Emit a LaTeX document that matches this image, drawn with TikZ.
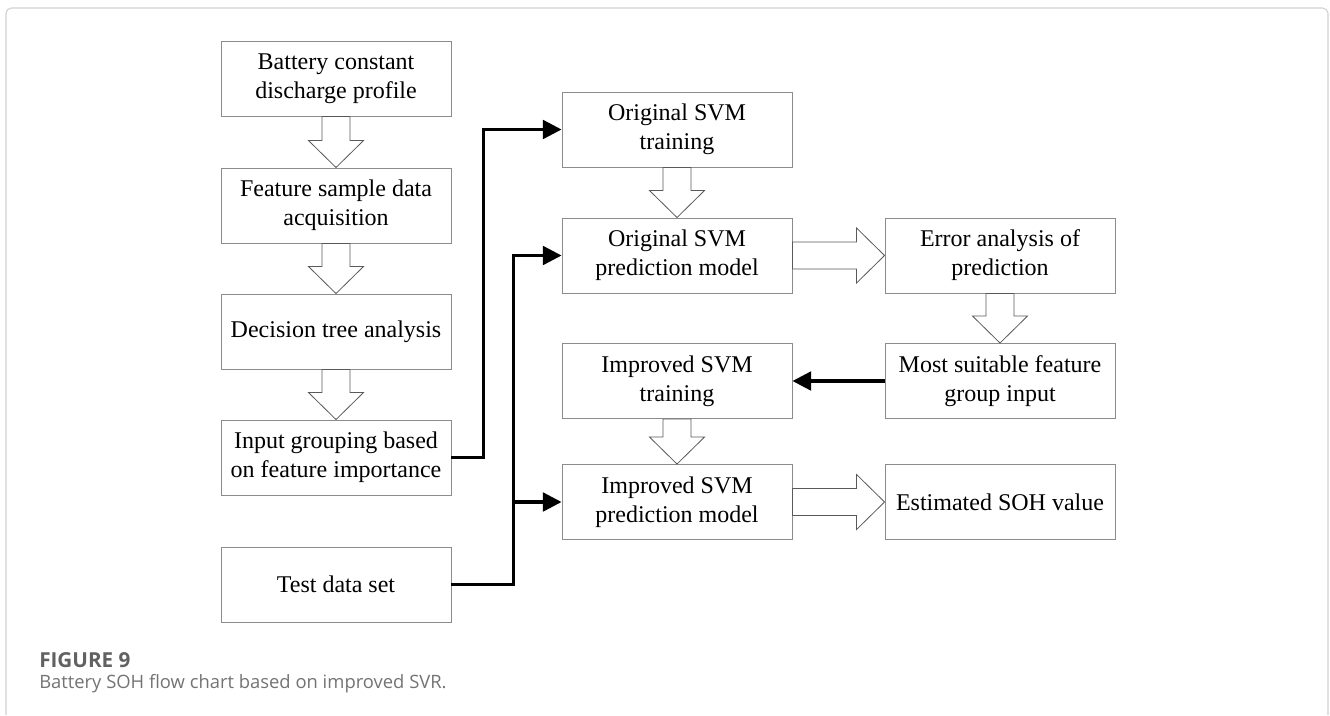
\documentclass[tikz,border=0pt]{standalone}
\usepackage{fontspec}
\setmainfont{Liberation Serif}
\newfontfamily\capfont{Open Sans}
\usetikzlibrary{arrows.meta,calc}
\begin{document}
\begin{tikzpicture}[x=0.75pt,y=-0.75pt,
	box/.style={draw=black!45,line width=0.7pt,minimum width=172.5pt,minimum height=56.25pt,
		align=center,inner sep=0pt,font=\fontsize{18}{21.75}\selectfont},
	hollow/.style={draw=black!65,line width=0.6pt,fill=white},
	blockdown/.style={to path={($(\tikztostart)+(-14,0)$) -- ($(\tikztotarget)+(-14,-27)$)
		-- ($(\tikztotarget)+(-27.5,-27)$) -- (\tikztotarget) -- ($(\tikztotarget)+(27.5,-27)$)
		-- ($(\tikztotarget)+(14,-27)$) -- ($(\tikztostart)+(14,0)$) -- cycle}},
	blockright/.style={to path={($(\tikztostart)+(0,-13.5)$) -- ($(\tikztotarget)+(-28,-13.5)$)
		-- ($(\tikztotarget)+(-28,-27.5)$) -- (\tikztotarget) -- ($(\tikztotarget)+(-28,27.5)$)
		-- ($(\tikztotarget)+(-28,13.5)$) -- ($(\tikztostart)+(0,13.5)$) -- cycle}},
	link/.style={line width=2.4pt,-{Triangle[length=14pt,width=14pt]}}]
	\useasboundingbox (0,0) rectangle (1330,715);
	\draw[black!18,line width=0.8pt,rounded corners=4pt] (6,715) -- (6,8) -- (1328,8) -- (1328,715);
	%
	\node[box] (bat)    at (336,78.5)  {Battery constant\\discharge profile};
	\node[box] (feat)   at (336,205.5) {Feature sample data\\acquisition};
	\node[box] (tree)   at (336,331.5) {Decision tree analysis};
	\node[box] (grp)    at (336,457.5) {Input grouping based\\on feature importance};
	\node[box] (test)   at (336,584.5) {Test data set};
	%
	\node[box] (otrain) at (677,129.5) {Original SVM\\training};
	\node[box] (opred)  at (677,255.5) {Original SVM\\prediction model};
	\node[box] (itrain) at (677,381)   {Improved SVM\\training};
	\node[box] (ipred)  at (677,502)   {Improved SVM\\prediction model};
	%
	\node[box] (err)    at (1000,255.5) {Error analysis of\\prediction};
	\node[box] (best)   at (1000,381)   {Most suitable feature\\group input};
	\node[box] (soh)    at (1000,502)   {Estimated SOH value};
	%
	\draw[hollow] (bat.south) to[blockdown] (feat.north);
	\draw[hollow] (feat.south) to[blockdown] (tree.north);
	\draw[hollow] (tree.south) to[blockdown] (grp.north);
	\draw[hollow] (otrain.south) to[blockdown] (opred.north);
	\draw[hollow] (itrain.south) to[blockdown] (ipred.north);
	\draw[hollow] (err.south) to[blockdown] (best.north);
	%
	\draw[hollow] (opred.east) to[blockright] (err.west);
	\draw[hollow] (ipred.east) to[blockright] (soh.west);
	%
	\coordinate (split) at ($(test.east)+(62,0)$);
	\draw[link] (grp.east) -- ++(32,0) |- (otrain.west);
	\draw[link] (test.east) -- (split) |- (opred.west);
	\draw[link] (split) |- (ipred.west);
	\draw[link] (best.west) -- (itrain.east);
	%
	\node[anchor=west,inner sep=0pt,text=black!62,font=\capfont\bfseries\fontsize{15.5}{18}\selectfont]
		(fig) at (39,660) {FIGURE 9};
	\node[anchor=west,inner sep=0pt,text=black!55,font=\capfont\fontsize{13.8}{16}\selectfont]
		(cap) at (39,684) {Battery SOH flow chart based on improved SVR.};
\end{tikzpicture}
\end{document}
